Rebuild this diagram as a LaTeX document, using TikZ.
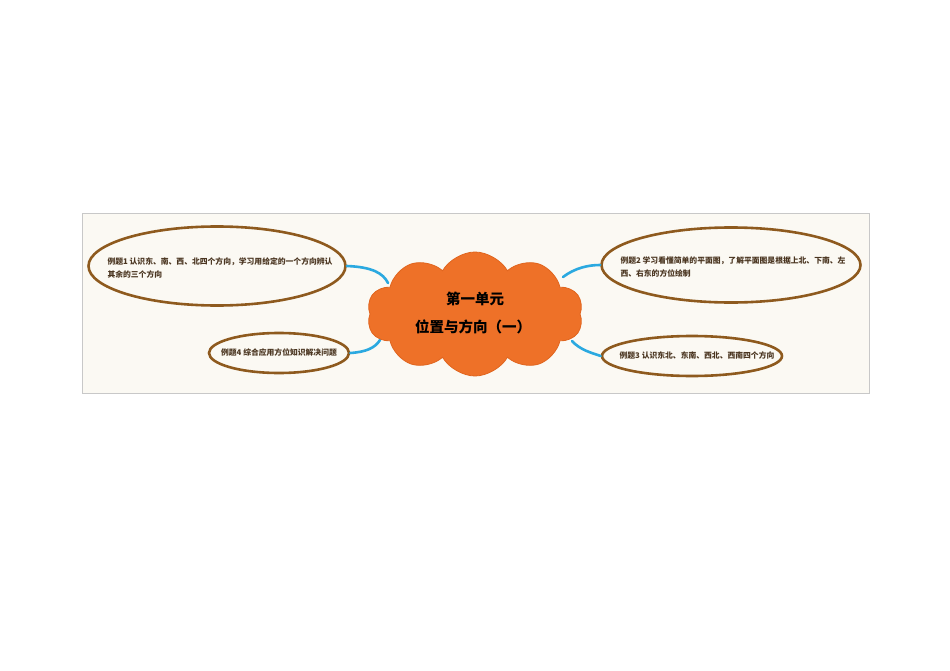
\documentclass[tikz,border=0pt]{standalone}
\usepackage{fontspec}
\newfontfamily\cjk{Noto Sans CJK SC}
\usetikzlibrary{shapes.symbols,shapes.geometric}
\definecolor{panelbg}{HTML}{FBF9F3}
\definecolor{panelline}{HTML}{C8C8C8}
\definecolor{cloudfill}{HTML}{EE7128}
\definecolor{clouddraw}{HTML}{E0651E}
\definecolor{ovalline}{HTML}{8E5A1E}
\definecolor{linkblue}{HTML}{2BA9E0}
\definecolor{txt}{HTML}{4A3520}
\tikzset{
  oval/.style={ellipse, draw=ovalline, line width=2.6pt, fill=panelbg, inner sep=0pt},
  ovaltext/.style={font=\cjk\bfseries\fontsize{7.8}{13}\selectfont, text=txt, align=left},
  link/.style={draw=linkblue, line width=2.6pt, line cap=round},
  title/.style={font=\cjk\bfseries\fontsize{14.5}{28}\selectfont, text=black, align=center}
}
\begin{document}
\begin{tikzpicture}[x=1pt,y=-1pt]
\useasboundingbox (0,0) rectangle (950,671);
\fill[white] (0,0) rectangle (950,671);
\draw[panelline, fill=panelbg, line width=0.6pt] (82,213) rectangle (869,393);
% connectors
\coordinate (c1) at (388,283);
\coordinate (c2) at (563,277);
\coordinate (c3) at (380,340);
\coordinate (c4) at (572,341);
\node[oval, minimum width=257pt, minimum height=79pt] (e1) at (217,266) {};
\node[oval, minimum width=259pt, minimum height=75pt] (e2) at (731,265) {};
\node[oval, minimum width=140pt, minimum height=40pt] (e4) at (279,353) {};
\node[oval, minimum width=180pt, minimum height=40pt] (e3) at (692,356) {};
\draw[link] (e1.east) .. controls (372,267) and (383,273) .. (c1);
\draw[link] (c2) .. controls (575,268) and (588,265) .. (e2.west);
\draw[link] (e4.east) .. controls (366,352) and (375,348) .. (c3);
\draw[link] (c4) .. controls (580,350) and (592,353) .. (e3.west);
% cloud
\node[cloud, cloud puffs=10, cloud puff arc=120, aspect=1.9, fill=cloudfill, draw=clouddraw, line width=0.8pt, minimum width=216pt, minimum height=124pt, inner sep=0pt] (cl) at (475,314) {};
\node[title] (t1) at (475,299) {第一单元};
\node[title] (t2) at (473,327) {位置与方向（一）};
% texts
\node[ovaltext, anchor=west] (x1) at (104,268) {例题1 认识东、南、西、北四个方向，学习用给定的一个方向辨认\\其余的三个方向};
\node[ovaltext, anchor=west] (x2) at (617,267) {例题2 学习看懂简单的平面图，了解平面图是根据上北、下南、左\\西、右东的方位绘制};
\node[ovaltext, anchor=center] (x4) at (279,352) {例题4 综合应用方位知识解决问题};
\node[ovaltext, anchor=center] (x3) at (697,355) {例题3 认识东北、东南、西北、西南四个方向};
\end{tikzpicture}
\end{document}
